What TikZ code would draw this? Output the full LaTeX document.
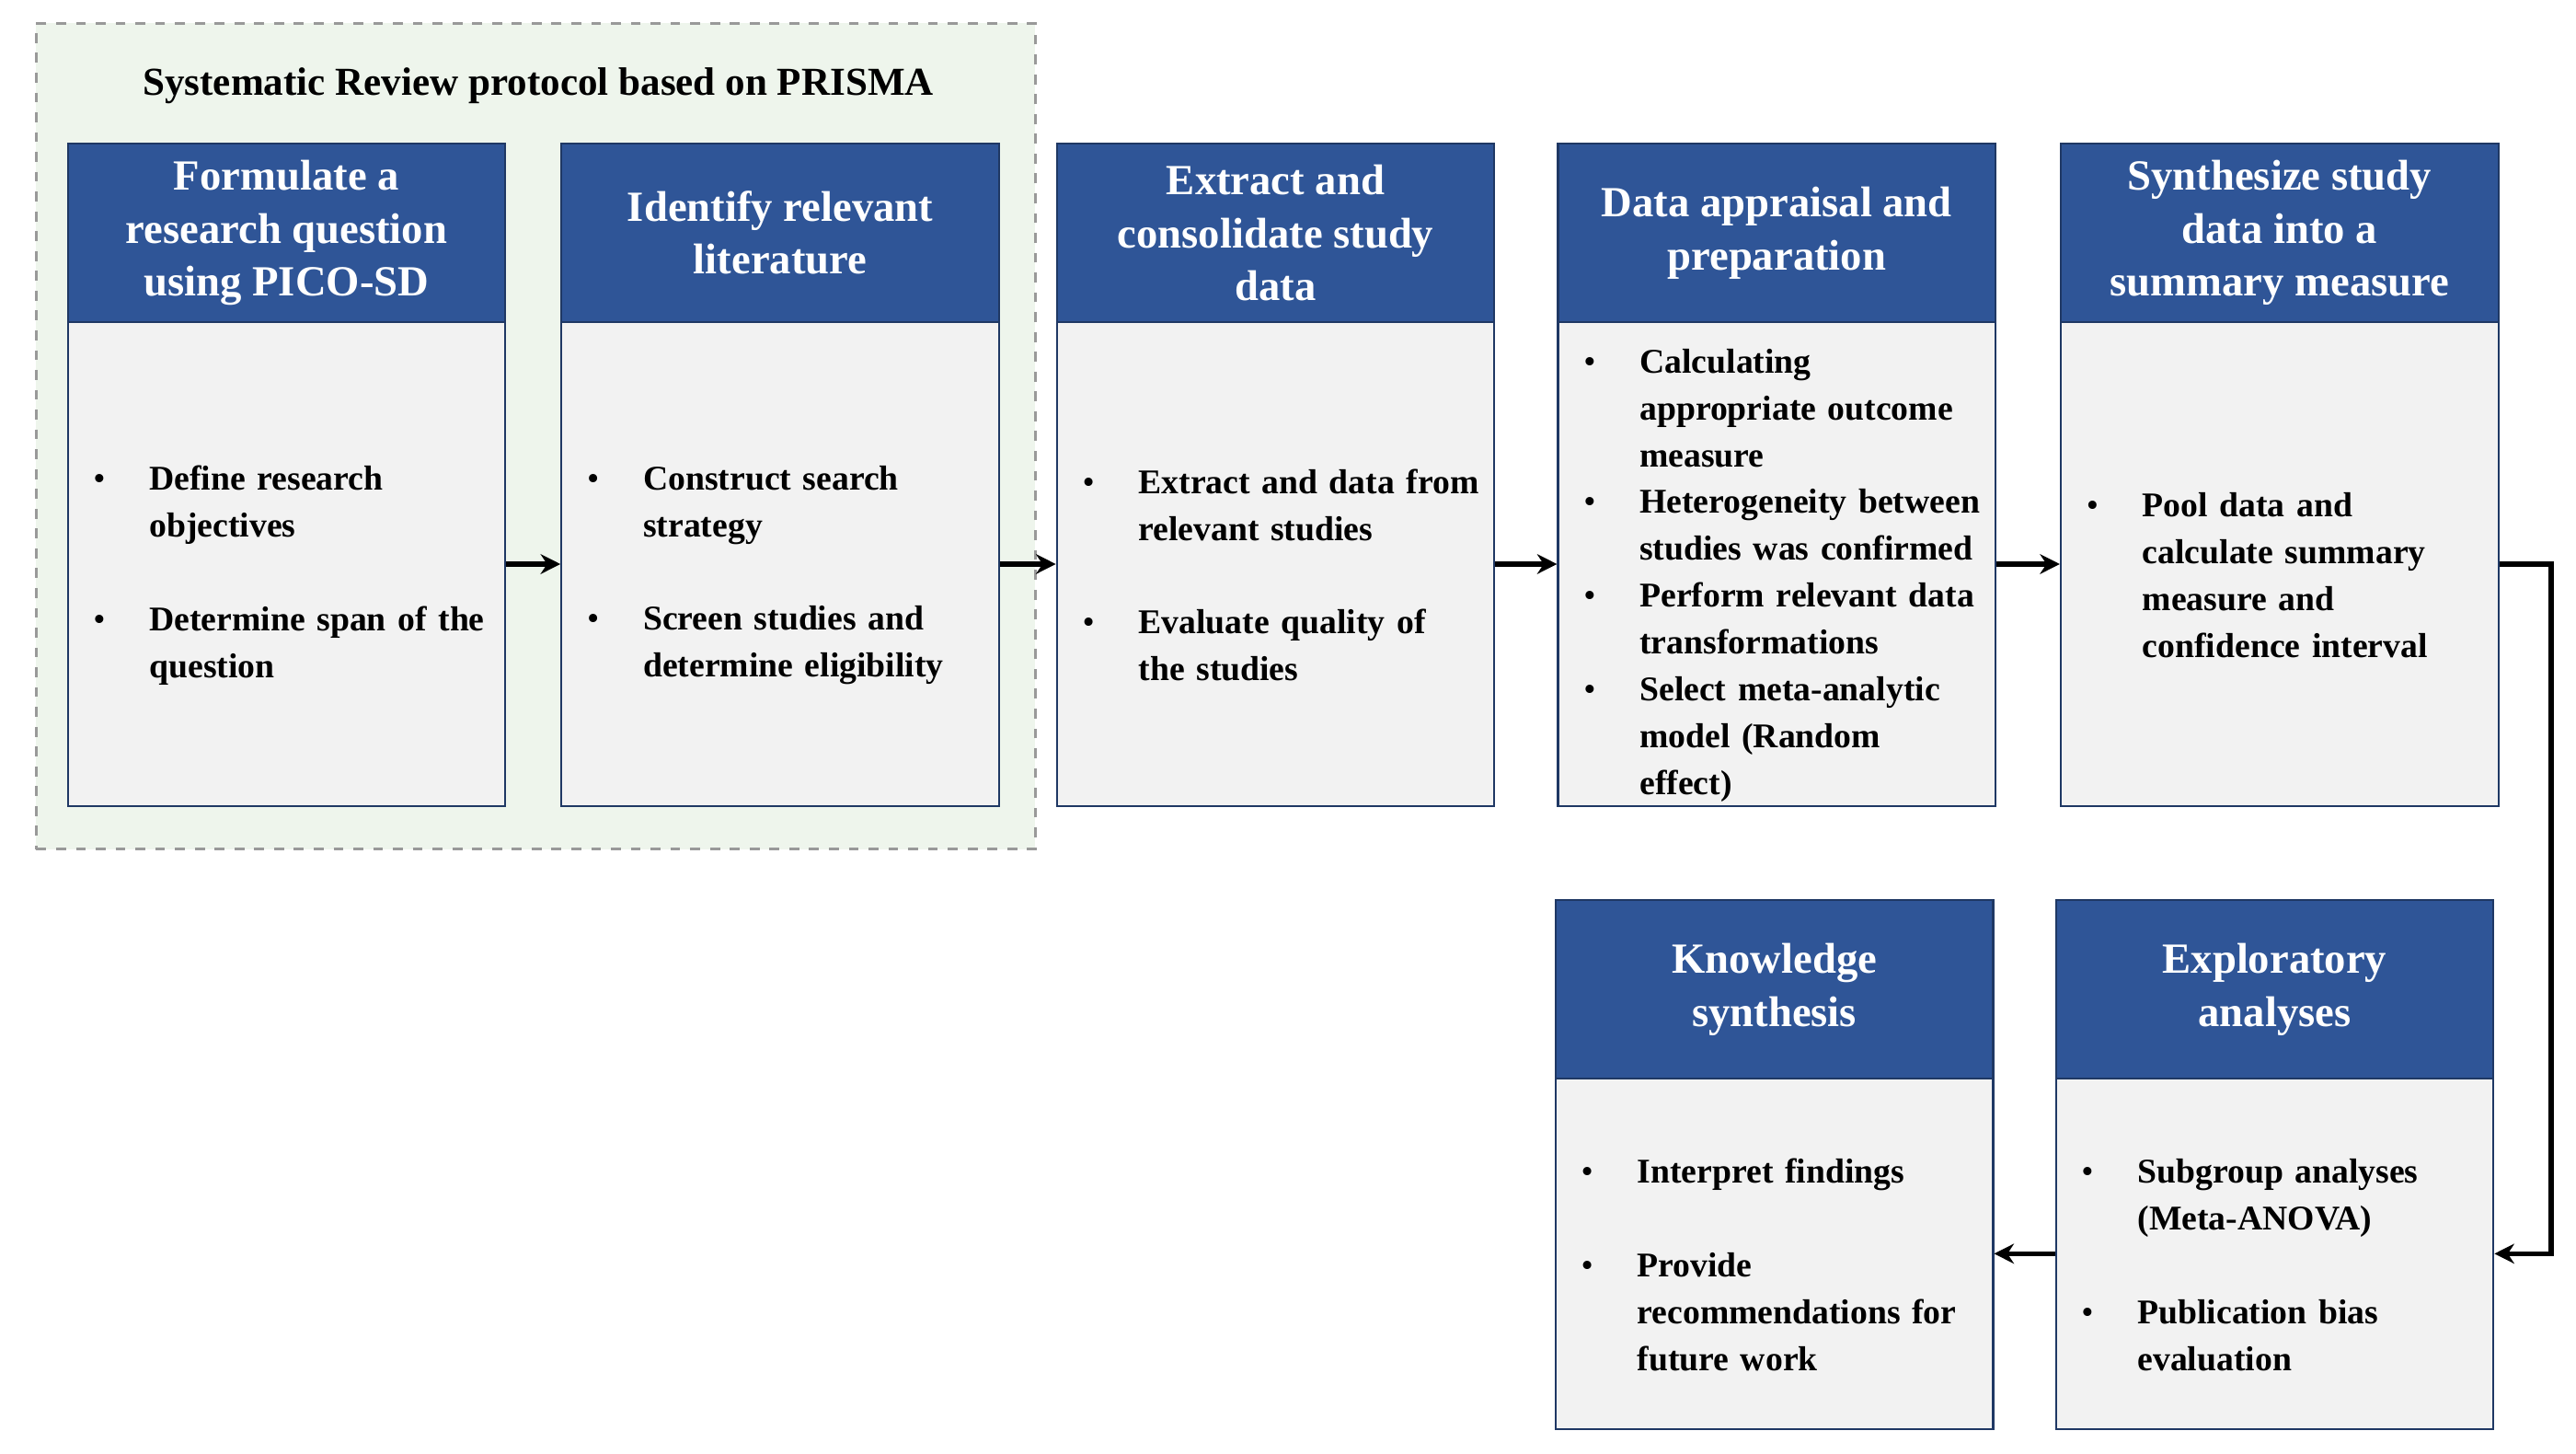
\documentclass[tikz,border=0pt]{standalone}
\usepackage{fontspec}
\setmainfont{Liberation Serif}
\usepackage{enumitem}
\usetikzlibrary{arrows.meta}
\definecolor{hdrblue}{HTML}{2F5597}
\definecolor{bodygray}{HTML}{F2F2F2}
\definecolor{grpgreen}{HTML}{EEF5EC}
\definecolor{edgeblue}{HTML}{1F3864}
\newcommand{\blist}[2][0pt]{\begin{itemize}[leftmargin=21pt,labelsep=12pt,labelwidth=5pt,align=left,itemsep=#1,topsep=0pt,parsep=0pt,partopsep=0pt]#2\end{itemize}}
\begin{document}
\begin{tikzpicture}[x=0.5pt,y=-0.5pt,
  hdr/.style={fill=hdrblue,draw=edgeblue,line width=0.6pt,text=white,minimum width=132.5pt,minimum height=54pt,align=center,inner sep=2pt,font=\bfseries\fontsize{13}{16}\selectfont},
  body/.style={fill=bodygray,draw=edgeblue,line width=0.6pt,minimum width=132.5pt,inner sep=0pt,text width=125pt,font=\bfseries\fontsize{10.5}{14.2}\selectfont},
  arr/.style={line width=1.5pt,-{Stealth[length=6pt,width=6pt]}}]
\useasboundingbox (0,0) rectangle (1560,880);
\node[draw=gray!80,dashed,line width=0.8pt,fill=grpgreen,minimum width=302.5pt,minimum height=250pt,inner sep=0pt] (grp) at (324.5,264) {};
\node[font=\bfseries\fontsize{12}{14}\selectfont] (title) at (326,52) {Systematic Review protocol based on PRISMA};

\node[hdr] (h1) at (173.5,141) {Formulate a\\research question\\using PICO-SD};
\node[body,minimum height=146.5pt] (b1) at (173.5,341.5) {\blist[14pt]{\item Define research objectives \item Determine span of the question}};

\node[hdr] (h2) at (472.5,141) {Identify relevant\\literature};
\node[body,minimum height=146.5pt] (b2) at (472.5,341.5) {\blist[14pt]{\item Construct search strategy \item Screen studies and determine eligibility}};

\node[hdr] (h3) at (772.5,141) {Extract and\\consolidate study\\data};
\node[body,minimum height=146.5pt] (b3) at (772.5,341.5) {\blist[14pt]{\item Extract and data from relevant studies \item Evaluate quality of the studies}};

\node[hdr] (h4) at (1076,141) {Data appraisal and\\preparation};
\node[body,minimum height=146.5pt] (b4) at (1076,341.5) {\blist{\item Calculating appropriate outcome measure \item Heterogeneity between studies was confirmed \item Perform relevant data transformations \item Select meta-analytic model (Random effect)}};

\node[hdr] (h5) at (1380.5,141) {Synthesize study\\data into a\\summary measure};
\node[body,minimum height=146.5pt] (b5) at (1380.5,341.5) {\blist{\item Pool data and calculate summary measure and confidence interval}};

\node[hdr] (h6) at (1377.5,599) {Exploratory\\analyses};
\node[body,minimum height=106pt] (b6) at (1377.5,759) {\blist[14pt]{\item Subgroup analyses (Meta-ANOVA) \item Publication bias evaluation}};

\node[hdr] (h7) at (1074.5,599) {Knowledge\\synthesis};
\node[body,minimum height=106pt] (b7) at (1074.5,759) {\blist[14pt]{\item Interpret findings \item Provide recommendations for future work}};

\draw[arr] (b1.east) -- (b2.west);
\draw[arr] (b2.east) -- (b3.west);
\draw[arr] (b3.east) -- (b4.west);
\draw[arr] (b4.east) -- (b5.west);
\coordinate (turn) at (1545,341.5);
\draw[arr] (b5.east) -- (turn) |- (b6.east);
\draw[arr] (b6.west) -- (b7.east);
\end{tikzpicture}
\end{document}
